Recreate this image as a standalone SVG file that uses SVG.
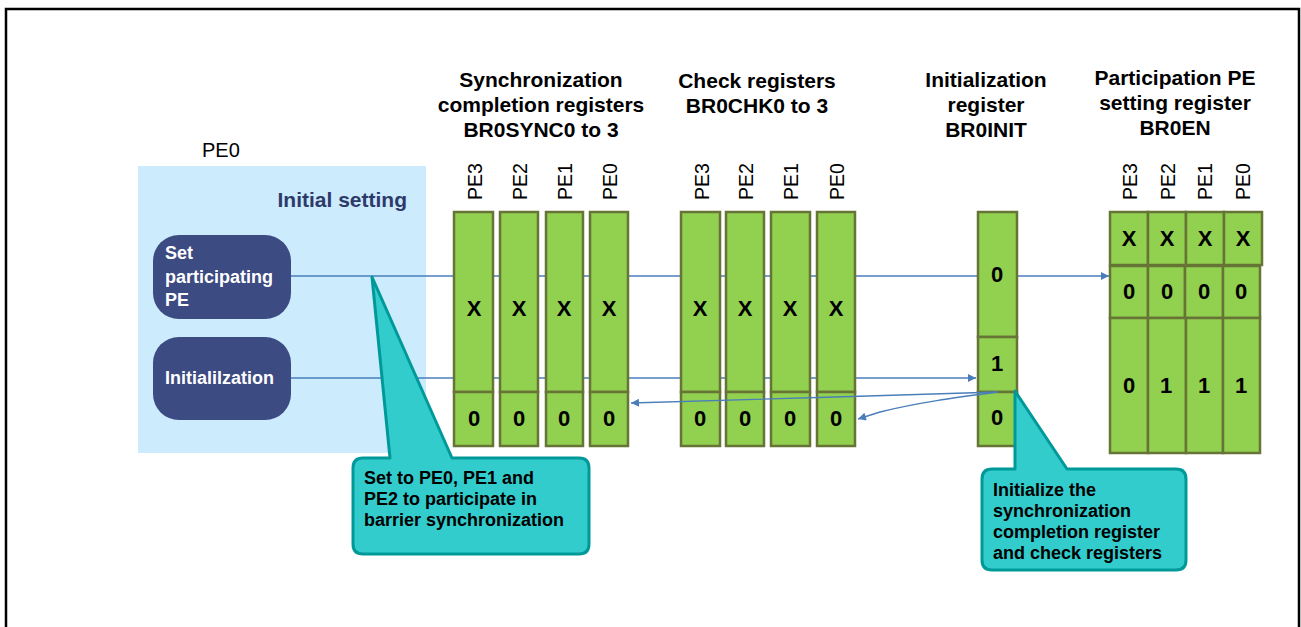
<svg xmlns="http://www.w3.org/2000/svg" width="1301" height="627" viewBox="0 0 1301 627">
<style>
.t{font-family:"Liberation Sans",Arial,sans-serif;}
.h{font-family:"Liberation Sans",Arial,sans-serif;font-weight:bold;font-size:21px;text-anchor:middle;fill:#000;}
.pe{font-family:"Liberation Sans",Arial,sans-serif;font-size:21px;fill:#000;}
.reg{fill:#92D050;stroke:#667535;stroke-width:2.5;}
.v{font-family:"Liberation Sans",Arial,sans-serif;font-weight:bold;font-size:22px;text-anchor:middle;fill:#000;}
.node{fill:#3C4B82;}
.nt{font-family:"Liberation Sans",Arial,sans-serif;font-weight:bold;font-size:18px;fill:#fff;}
.conn{stroke:#4A7EBB;stroke-width:1.4;fill:none;}
.call{fill:#33CCCC;stroke:#009999;stroke-width:3;stroke-linejoin:round;}
.ct{font-family:"Liberation Sans",Arial,sans-serif;font-weight:bold;font-size:18px;fill:#000;}
</style>
<defs>
<marker id="arr" viewBox="0 0 10 10" refX="10" refY="5" markerWidth="10" markerHeight="8" markerUnits="userSpaceOnUse" orient="auto">
<path d="M0,0 L10,5 L0,10 Z" fill="#4A7EBB"/>
</marker>
</defs>
<rect width="1301" height="627" fill="#fff"/>
<path d="M6,630 L6,9 L1299,9 L1299,630" fill="none" stroke="#000" stroke-width="2.5"/>

<g id="pe0-area">
<rect x="138" y="166" width="288" height="287" fill="#CCEBFD"/>
<text class="t" x="202" y="157" font-size="20">PE0</text>
<text class="t" x="407" y="207" font-size="21" font-weight="bold" fill="#2E3A6A" text-anchor="end">Initial setting</text>
</g>

<g id="node-set-pe">
<rect class="node" x="153" y="235" width="138" height="84" rx="26"/>
<text class="nt" x="165" y="259">Set</text>
<text class="nt" x="165" y="283">participating</text>
<text class="nt" x="165" y="306">PE</text>
</g>
<g id="node-init">
<rect class="node" x="153" y="337" width="138" height="83" rx="26"/>
<text class="nt" x="165" y="384">Initialilzation</text>
</g>

<g id="connectors-back">
<line class="conn" x1="291" y1="276" x2="1109" y2="276" marker-end="url(#arr)"/>
<line class="conn" x1="291" y1="378" x2="976" y2="378" marker-end="url(#arr)"/>
</g>

<g id="sync-registers">
<text class="h" x="541" y="87">Synchronization</text>
<text class="h" x="541" y="112">completion registers</text>
<text class="h" x="541" y="137">BR0SYNC0 to 3</text>
<rect class="reg" x="454" y="212" width="39" height="180"/><rect class="reg" x="454" y="392" width="39" height="54"/>
<rect class="reg" x="500" y="212" width="38" height="180"/><rect class="reg" x="500" y="392" width="38" height="54"/>
<rect class="reg" x="546" y="212" width="37" height="180"/><rect class="reg" x="546" y="392" width="37" height="54"/>
<rect class="reg" x="590" y="212" width="38" height="180"/><rect class="reg" x="590" y="392" width="38" height="54"/>
<text class="pe" textLength="37" lengthAdjust="spacingAndGlyphs" transform="translate(482,200) rotate(-90)">PE3</text>
<text class="pe" textLength="37" lengthAdjust="spacingAndGlyphs" transform="translate(527,200) rotate(-90)">PE2</text>
<text class="pe" textLength="37" lengthAdjust="spacingAndGlyphs" transform="translate(572,200) rotate(-90)">PE1</text>
<text class="pe" textLength="37" lengthAdjust="spacingAndGlyphs" transform="translate(617,200) rotate(-90)">PE0</text>
<text class="v" x="474" y="316">X</text><text class="v" x="519" y="316">X</text><text class="v" x="564" y="316">X</text><text class="v" x="609" y="316">X</text>
<text class="v" x="474" y="426">0</text><text class="v" x="519" y="426">0</text><text class="v" x="564" y="426">0</text><text class="v" x="609" y="426">0</text>
</g>

<g id="check-registers">
<text class="h" x="757" y="88">Check registers</text>
<text class="h" x="757" y="113">BR0CHK0 to 3</text>
<rect class="reg" x="681" y="212" width="39" height="180"/><rect class="reg" x="681" y="392" width="39" height="54"/>
<rect class="reg" x="726" y="212" width="38" height="180"/><rect class="reg" x="726" y="392" width="38" height="54"/>
<rect class="reg" x="771" y="212" width="39" height="180"/><rect class="reg" x="771" y="392" width="39" height="54"/>
<rect class="reg" x="817" y="212" width="38" height="180"/><rect class="reg" x="817" y="392" width="38" height="54"/>
<text class="pe" textLength="37" lengthAdjust="spacingAndGlyphs" transform="translate(709,200) rotate(-90)">PE3</text>
<text class="pe" textLength="37" lengthAdjust="spacingAndGlyphs" transform="translate(753,200) rotate(-90)">PE2</text>
<text class="pe" textLength="37" lengthAdjust="spacingAndGlyphs" transform="translate(798,200) rotate(-90)">PE1</text>
<text class="pe" textLength="37" lengthAdjust="spacingAndGlyphs" transform="translate(844,200) rotate(-90)">PE0</text>
<text class="v" x="700" y="316">X</text><text class="v" x="745" y="316">X</text><text class="v" x="790" y="316">X</text><text class="v" x="836" y="316">X</text>
<text class="v" x="700" y="426">0</text><text class="v" x="745" y="426">0</text><text class="v" x="790" y="426">0</text><text class="v" x="836" y="426">0</text>
</g>

<g id="init-register">
<text class="h" x="986" y="87">Initialization</text>
<text class="h" x="986" y="112">register</text>
<text class="h" x="986" y="137">BR0INIT</text>
<rect class="reg" x="978" y="212" width="39" height="125"/>
<rect class="reg" x="978" y="337" width="39" height="55"/>
<rect class="reg" x="978" y="392" width="39" height="54"/>
<text class="v" x="997" y="282">0</text>
<text class="v" x="997" y="371">1</text>
<text class="v" x="997" y="425">0</text>
</g>

<g id="en-register">
<text class="h" x="1175" y="85">Participation PE</text>
<text class="h" x="1175" y="110">setting register</text>
<text class="h" x="1175" y="135">BR0EN</text>
<text class="pe" textLength="37" lengthAdjust="spacingAndGlyphs" transform="translate(1137,200) rotate(-90)">PE3</text>
<text class="pe" textLength="37" lengthAdjust="spacingAndGlyphs" transform="translate(1175,200) rotate(-90)">PE2</text>
<text class="pe" textLength="37" lengthAdjust="spacingAndGlyphs" transform="translate(1212,200) rotate(-90)">PE1</text>
<text class="pe" textLength="37" lengthAdjust="spacingAndGlyphs" transform="translate(1250,200) rotate(-90)">PE0</text>
<rect class="reg" x="1110" y="212" width="38" height="53"/><rect class="reg" x="1148" y="212" width="38" height="53"/><rect class="reg" x="1186" y="212" width="38" height="53"/><rect class="reg" x="1224" y="212" width="38" height="53"/>
<rect class="reg" x="1110" y="266" width="38" height="52"/><rect class="reg" x="1148" y="266" width="37" height="52"/><rect class="reg" x="1185" y="266" width="38" height="52"/><rect class="reg" x="1223" y="266" width="37" height="52"/>
<rect class="reg" x="1110" y="318" width="38" height="135"/><rect class="reg" x="1148" y="318" width="38" height="135"/><rect class="reg" x="1186" y="318" width="37" height="135"/><rect class="reg" x="1223" y="318" width="37" height="135"/>
<text class="v" x="1129" y="246">X</text><text class="v" x="1167" y="246">X</text><text class="v" x="1205" y="246">X</text><text class="v" x="1243" y="246">X</text>
<text class="v" x="1129" y="299">0</text><text class="v" x="1167" y="299">0</text><text class="v" x="1204" y="299">0</text><text class="v" x="1241" y="299">0</text>
<text class="v" x="1129" y="393">0</text><text class="v" x="1166" y="393">1</text><text class="v" x="1204" y="393">1</text><text class="v" x="1241" y="393">1</text>
</g>

<g id="connectors-front">
<path class="conn" d="M998,392 L835,397 L631,403" marker-end="url(#arr)"/>
<path class="conn" d="M998,392 C960,397 920,402 880,412 L858,419" marker-end="url(#arr)"/>
</g>

<g id="callout-set-pe">
<path class="call" d="M363,458 L390,458 L372,277 L452,458 L579,458 Q589,458 589,468 L589,544 Q589,554 579,554 L363,554 Q353,554 353,544 L353,468 Q353,458 363,458 Z"/>
<text class="ct" x="364" y="484">Set to PE0, PE1 and</text>
<text class="ct" x="364" y="505">PE2 to participate in</text>
<text class="ct" x="364" y="526">barrier synchronization</text>
</g>

<g id="callout-init">
<path class="call" d="M992,469 L1015,469 L1015,391 L1067,469 L1176,469 Q1186,469 1186,479 L1186,560 Q1186,570 1176,570 L992,570 Q982,570 982,560 L982,479 Q982,469 992,469 Z"/>
<text class="ct" x="993" y="496">Initialize the</text>
<text class="ct" x="993" y="517">synchronization</text>
<text class="ct" x="993" y="538">completion register</text>
<text class="ct" x="993" y="559">and check registers</text>
</g>
</svg>
